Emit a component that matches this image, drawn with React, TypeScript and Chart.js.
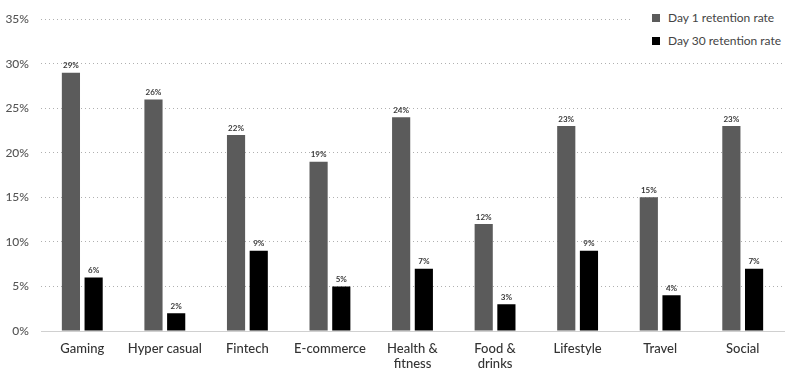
import React, { useEffect, useRef } from "react";
import { Chart, registerables } from "chart.js";

Chart.register(...registerables);

const categories: (string | string[])[] = [
  "Gaming",
  "Hyper casual",
  "Fintech",
  "E-commerce",
  ["Health &", "fitness"],
  ["Food &", "drinks"],
  "Lifestyle",
  "Travel",
  "Social",
];
const day1Label = "Day 1 retention rate";
const day30Label = "Day 30 retention rate";
const day1Values = [29, 26, 22, 19, 24, 12, 23, 15, 23];
const day30Values = [6, 2, 9, 5, 7, 3, 9, 4, 7];
const yTicks = [0, 5, 10, 15, 20, 25, 30, 35];

const GRAY = "#5b5b5b";
const BLACK = "#000000";
const FONT = "Lato, 'Open Sans', sans-serif";

const valueLabels = {
  id: "valueLabels",
  afterDatasetsDraw(chart: any) {
    const ctx = chart.ctx;
    ctx.save();
    ctx.font = `bold 8px ${FONT}`;
    ctx.fillStyle = "#3a3a3a";
    ctx.textAlign = "center";
    ctx.textBaseline = "bottom";
    chart.data.datasets.forEach((ds: any, di: number) => {
      const meta = chart.getDatasetMeta(di);
      meta.data.forEach((el: any, i: number) => {
        ctx.fillText(`${ds.data[i]}%`, el.x, el.y - 3);
      });
    });
    ctx.restore();
  },
};

export default function App() {
  const ref = useRef<HTMLCanvasElement>(null);
  useEffect(() => {
    document.body.style.margin = "0";
    const chart = new Chart(ref.current!, {
      type: "bar",
      data: {
        labels: categories,
        datasets: [
          {
            label: day1Label,
            data: day1Values,
            backgroundColor: GRAY,
            categoryPercentage: 0.55,
            barPercentage: 0.8,
          },
          {
            label: day30Label,
            data: day30Values,
            backgroundColor: BLACK,
            categoryPercentage: 0.55,
            barPercentage: 0.8,
          },
        ],
      },
      options: {
        animation: false,
        responsive: false,
        maintainAspectRatio: false,
        layout: { padding: { top: 17, right: 16, left: 0, bottom: 0 } },
        plugins: {
          legend: { display: false },
          tooltip: { enabled: false },
        },
        scales: {
          x: {
            grid: { display: false },
            border: { display: true, color: "#d0d0d0", width: 1 },
            ticks: {
              color: "#333",
              font: { family: FONT, size: 13, weight: "500", lineHeight: 1.15 },
              padding: 2,
              maxRotation: 0,
              autoSkip: false,
            },
            afterFit(scale: any) {
              scale.height = 38;
            },
          },
          y: {
            min: 0,
            max: 35,
            afterBuildTicks(scale: any) {
              scale.ticks = yTicks.map((v) => ({ value: v }));
            },
            grid: {
              color: "#b0b0b0",
              lineWidth: 1,
              drawTicks: false,
            },
            border: { display: false, dash: [1, 3] },
            ticks: {
              color: "#555",
              font: { family: FONT, size: 12, weight: "500" },
              padding: 12,
              callback: (v: any) => `${v}%`,
            },
            afterFit(scale: any) {
              scale.width = 41;
            },
          },
        },
      },
      plugins: [valueLabels],
    });
    return () => chart.destroy();
  }, []);

  return (
    <div style={{ position: "relative", width: 800, height: 369, background: "#fff" }}>
      <canvas ref={ref} width={800} height={369} style={{ display: "block" }} />
      <div
        style={{
          position: "absolute",
          left: 630,
          top: 6,
          width: 170,
          background: "#fff",
          fontFamily: FONT,
          fontSize: 12,
          color: "#444",
          lineHeight: "23px",
          paddingLeft: 22,
          boxSizing: "border-box",
        }}
      >
        {[
          [day1Label, GRAY],
          [day30Label, BLACK],
        ].map(([t, c]) => (
          <div key={t} style={{ display: "flex", alignItems: "center" }}>
            <span
              style={{ display: "inline-block", width: 8, height: 8, background: c, marginRight: 8 }}
            />
            {t}
          </div>
        ))}
      </div>
    </div>
  );
}
